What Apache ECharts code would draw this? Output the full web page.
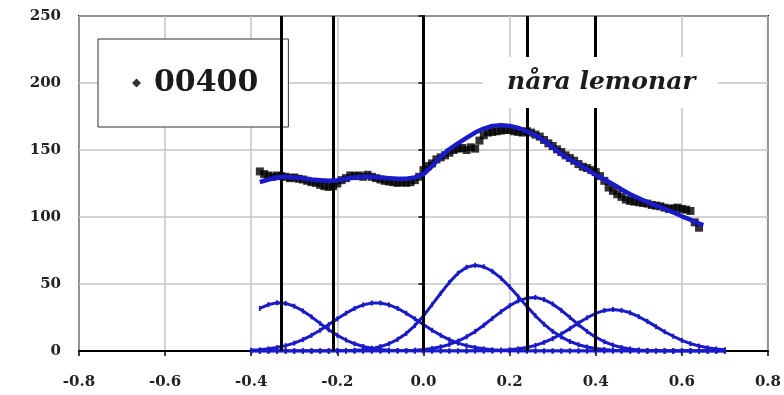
<!DOCTYPE html>
<html>
<head>
<meta charset="utf-8">
<script src="https://cdn.jsdelivr.net/npm/echarts@6/dist/echarts.min.js"></script>
<style>
  html, body { margin: 0; padding: 0; background: #fff; }
  #chart { width: 784px; height: 395px; }
</style>
</head>
<body>
<div id="chart"></div>
<script>
// Measured spectrum (black points)
const measuredX = [
  -0.38, -0.37, -0.36, -0.35, -0.34, -0.33, -0.32, -0.31, -0.30, -0.29,
  -0.28, -0.27, -0.26, -0.25, -0.24, -0.23, -0.22, -0.21, -0.20, -0.19,
  -0.18, -0.17, -0.16, -0.15, -0.14, -0.13, -0.12, -0.11, -0.10, -0.09,
  -0.08, -0.07, -0.06, -0.05, -0.04, -0.03, -0.02, -0.01, 0.00, 0.01,
  0.02, 0.03, 0.04, 0.05, 0.06, 0.07, 0.08, 0.09, 0.10, 0.11,
  0.12, 0.13, 0.14, 0.15, 0.16, 0.17, 0.18, 0.19, 0.20, 0.21,
  0.22, 0.23, 0.24, 0.25, 0.26, 0.27, 0.28, 0.29, 0.30, 0.31,
  0.32, 0.33, 0.34, 0.35, 0.36, 0.37, 0.38, 0.39, 0.40, 0.41,
  0.42, 0.43, 0.44, 0.45, 0.46, 0.47, 0.48, 0.49, 0.50, 0.51,
  0.52, 0.53, 0.54, 0.55, 0.56, 0.57, 0.58, 0.59, 0.60, 0.61,
  0.62, 0.63, 0.64
];
const measuredY = [
  134, 132, 131, 130, 131, 130.5, 130, 129, 129.5, 128.5,
  128, 127, 126, 125.5, 124, 123, 122.5, 123, 125, 127.5,
  129, 131, 130.5, 131, 130, 131.5, 130, 129, 128, 127,
  126.5, 126, 125.5, 126, 125.5, 126, 127.5, 130, 135, 138,
  140, 143, 144.5, 146, 148, 150, 151, 151.5, 150, 152,
  151, 157, 161, 163, 163.5, 164, 164.5, 165, 165, 164,
  163.5, 163, 164, 163, 161.5, 160, 157.5, 155, 153, 150.5,
  148.5, 146, 144, 142, 139.5, 137.5, 136.5, 135, 133.5, 130.5,
  127, 122, 119.5, 117, 115, 113, 112, 111.5, 111, 110.5,
  110, 109, 108.5, 108, 107, 106, 106.5, 107, 106, 105.5,
  104.5, 96, 92
];

// Total fitted curve
const fitX = [
  -0.38, -0.36, -0.34, -0.32, -0.30, -0.28, -0.26, -0.24, -0.22, -0.20,
  -0.18, -0.16, -0.14, -0.12, -0.10, -0.08, -0.06, -0.04, -0.02, 0.00,
  0.02, 0.04, 0.06, 0.08, 0.10, 0.12, 0.14, 0.16, 0.18, 0.20,
  0.22, 0.24, 0.26, 0.28, 0.30, 0.32, 0.34, 0.36, 0.38, 0.40,
  0.42, 0.44, 0.46, 0.48, 0.50, 0.52, 0.54, 0.56, 0.58, 0.60,
  0.62, 0.64, 0.65
];
const fitY = [
  126, 128, 129.5, 130, 129.5, 129, 128, 127.5, 127, 127.5,
  128.5, 129.5, 130, 130, 129.5, 129, 128.5, 128.5, 129.5, 132,
  138, 145, 150.5, 155, 159, 163, 166, 168, 168.5, 168,
  166.5, 164, 161, 157, 152, 147, 143, 139.5, 135.5, 131.5,
  128, 124.5, 120.5, 117, 114, 111, 108.5, 106, 103.5, 100.5,
  98, 95, 94
];

// Individual peak components
const compX = [
  -0.40, -0.38, -0.36, -0.34, -0.32, -0.30, -0.28, -0.26, -0.24, -0.22,
  -0.20, -0.18, -0.16, -0.14, -0.12, -0.10, -0.08, -0.06, -0.04, -0.02,
  0.00, 0.02, 0.04, 0.06, 0.08, 0.10, 0.12, 0.14, 0.16, 0.18,
  0.20, 0.22, 0.24, 0.26, 0.28, 0.30, 0.32, 0.34, 0.36, 0.38,
  0.40, 0.42, 0.44, 0.46, 0.48, 0.50, 0.52, 0.54, 0.56, 0.58,
  0.60, 0.62, 0.64, 0.66, 0.68, 0.70
];
const peak1 = [
  null, 31.8, 34.6, 36.0, 35.5, 33.4, 29.9, 25.5, 20.6, 15.9,
  11.7, 8.2, 5.4, 3.4, 2.1, 1.2, 0.6, 0.3, 0.1, 0,
  0, 0, 0, 0, 0, 0, 0, 0, 0, 0,
  0, 0, 0, 0, 0, 0, 0, 0, 0, 0,
  0, 0, 0, 0, 0, 0, 0, 0, 0, 0,
  0, 0, 0, 0, 0, 0
];
const peak2 = [
  0.5, 0.9, 1.6, 2.6, 4.0, 5.9, 8.5, 11.7, 15.5, 19.7,
  24.0, 28.2, 31.8, 34.4, 35.8, 35.8, 34.4, 31.8, 28.2, 24.0,
  19.7, 15.5, 11.7, 8.5, 5.9, 4.0, 2.6, 1.6, 0.9, 0.5,
  0.2, 0, 0, 0, 0, 0, 0, 0, 0, 0,
  0, 0, 0, 0, 0, 0, 0, 0, 0, 0,
  0, 0, 0, 0, 0, 0
];
const peak3 = [
  0, 0, 0, 0, 0, 0, 0, 0, 0, 0,
  0.1, 0.3, 0.5, 1.0, 1.8, 3.3, 5.4, 8.7, 13.1, 19.0,
  26.3, 34.6, 43.1, 51.2, 58.0, 62.5, 64.0, 62.9, 59.5, 54.4,
  47.9, 40.7, 33.3, 26.3, 20.0, 14.7, 10.5, 7.1, 4.7, 3.0,
  1.8, 1.1, 0.6, 0.3, 0.2, 0.1, 0, 0, 0, 0,
  0, 0, 0, 0, 0, 0
];
const peak4 = [
  0, 0, 0, 0, 0, 0, 0, 0, 0, 0,
  0, 0, 0, 0, 0, 0, 0, 0.2, 0.3, 0.6,
  1.1, 1.9, 3.1, 4.9, 7.4, 10.6, 14.6, 19.2, 24.3, 29.3,
  33.8, 37.4, 39.5, 40.0, 38.4, 35.1, 30.4, 25.1, 19.6, 14.6,
  10.3, 6.9, 4.4, 2.6, 1.5, 0.8, 0.4, 0.2, 0.1, 0,
  0, 0, 0, 0, 0, 0
];
const peak5 = [
  0, 0, 0, 0, 0, 0, 0, 0, 0, 0,
  0, 0, 0, 0, 0, 0, 0, 0, 0, 0,
  0, 0, 0, 0, 0, 0, 0.1, 0.1, 0.2, 0.5,
  0.9, 1.6, 2.6, 4.2, 6.4, 9.2, 12.7, 16.7, 20.9, 24.8,
  28.1, 30.3, 31.0, 30.3, 28.5, 25.6, 22.1, 18.2, 14.4, 11.0,
  7.9, 5.5, 3.7, 2.4, 1.5, 0.9
];

// Region boundaries (vertical black lines)
const boundaries = [-0.326, -0.208, 0.0, 0.24, 0.4];

const sampleName = '00400';
const regionLabel = 'nåra lemonar';

const serif = "'DejaVu Serif', serif";
const blue = '#1a1ac8';

const pair = (xs, ys) => xs.map((x, i) => [x, ys[i]]);

function componentSeries(values) {
  return {
    type: 'line',
    data: pair(compX, values),
    showSymbol: true,
    symbol: 'rect',
    symbolSize: [2, 5],
    connectNulls: false,
    lineStyle: { color: blue, width: 3 },
    itemStyle: { color: blue },
    z: 3,
    silent: true
  };
}

const chart = echarts.init(document.getElementById('chart'), null, { renderer: 'canvas' });

chart.setOption({
  animation: false,
  backgroundColor: '#fff',
  grid: {
    left: 79, right: 16, top: 16, bottom: 44,
    show: true, borderColor: '#000', borderWidth: 2, backgroundColor: 'transparent'
  },
  title: {
    text: regionLabel,
    left: 483, top: 57,
    padding: [13, 22, 13, 24],
    backgroundColor: '#fff',
    textStyle: {
      fontFamily: serif, fontSize: 25, fontWeight: 'bold', fontStyle: 'italic', color: '#1c1c1c'
    }
  },
  legend: {
    data: [{ name: sampleName, icon: 'diamond' }],
    left: 98, top: 39,
    orient: 'horizontal',
    padding: [25, 30, 25, 34],
    backgroundColor: '#fff',
    borderColor: '#333',
    borderWidth: 1,
    itemWidth: 9, itemHeight: 9,
    textStyle: {
      fontFamily: serif, fontSize: 30, fontWeight: 'bold', color: '#1a1a1a',
      lineHeight: 38, padding: [0, 0, 0, 8]
    }
  },
  xAxis: {
    type: 'value',
    min: -0.8, max: 0.8, interval: 0.2,
    axisLine: { show: true, onZero: false, lineStyle: { color: '#000', width: 2 } },
    axisTick: { show: true, length: 5, lineStyle: { color: '#000', width: 1.5 } },
    splitLine: { show: true, lineStyle: { color: '#c4c4c4', width: 1.5 } },
    axisLabel: {
      margin: 24,
      fontFamily: serif, fontSize: 15, fontWeight: 'bold', color: '#222',
      formatter: v => v.toFixed(1)
    }
  },
  yAxis: {
    type: 'value',
    min: 0, max: 250, interval: 50,
    axisLine: { show: true, lineStyle: { color: '#000', width: 2 } },
    axisTick: { show: true, length: 5, lineStyle: { color: '#000', width: 1.5 } },
    splitLine: { show: true, lineStyle: { color: '#c4c4c4', width: 1.5 } },
    axisLabel: {
      margin: 18,
      fontFamily: serif, fontSize: 15, fontWeight: 'bold', color: '#222'
    }
  },
  series: [
    {
      name: 'boundaries',
      type: 'line',
      data: [],
      markLine: {
        silent: true,
        symbol: ['none', 'none'],
        label: { show: false },
        lineStyle: { color: '#000', width: 3, type: 'solid' },
        data: boundaries.map(b => ({ xAxis: b }))
      },
      z: 2
    },
    componentSeries(peak1),
    componentSeries(peak2),
    componentSeries(peak3),
    componentSeries(peak4),
    componentSeries(peak5),
    {
      name: sampleName,
      type: 'scatter',
      data: pair(measuredX, measuredY),
      symbol: 'rect',
      symbolSize: 8,
      itemStyle: { color: '#000' },
      z: 4
    },
    {
      name: 'fit',
      type: 'line',
      data: pair(fitX, fitY),
      showSymbol: false,
      lineStyle: { color: blue, width: 4.5 },
      z: 5
    }
  ]
});
</script>
</body>
</html>
